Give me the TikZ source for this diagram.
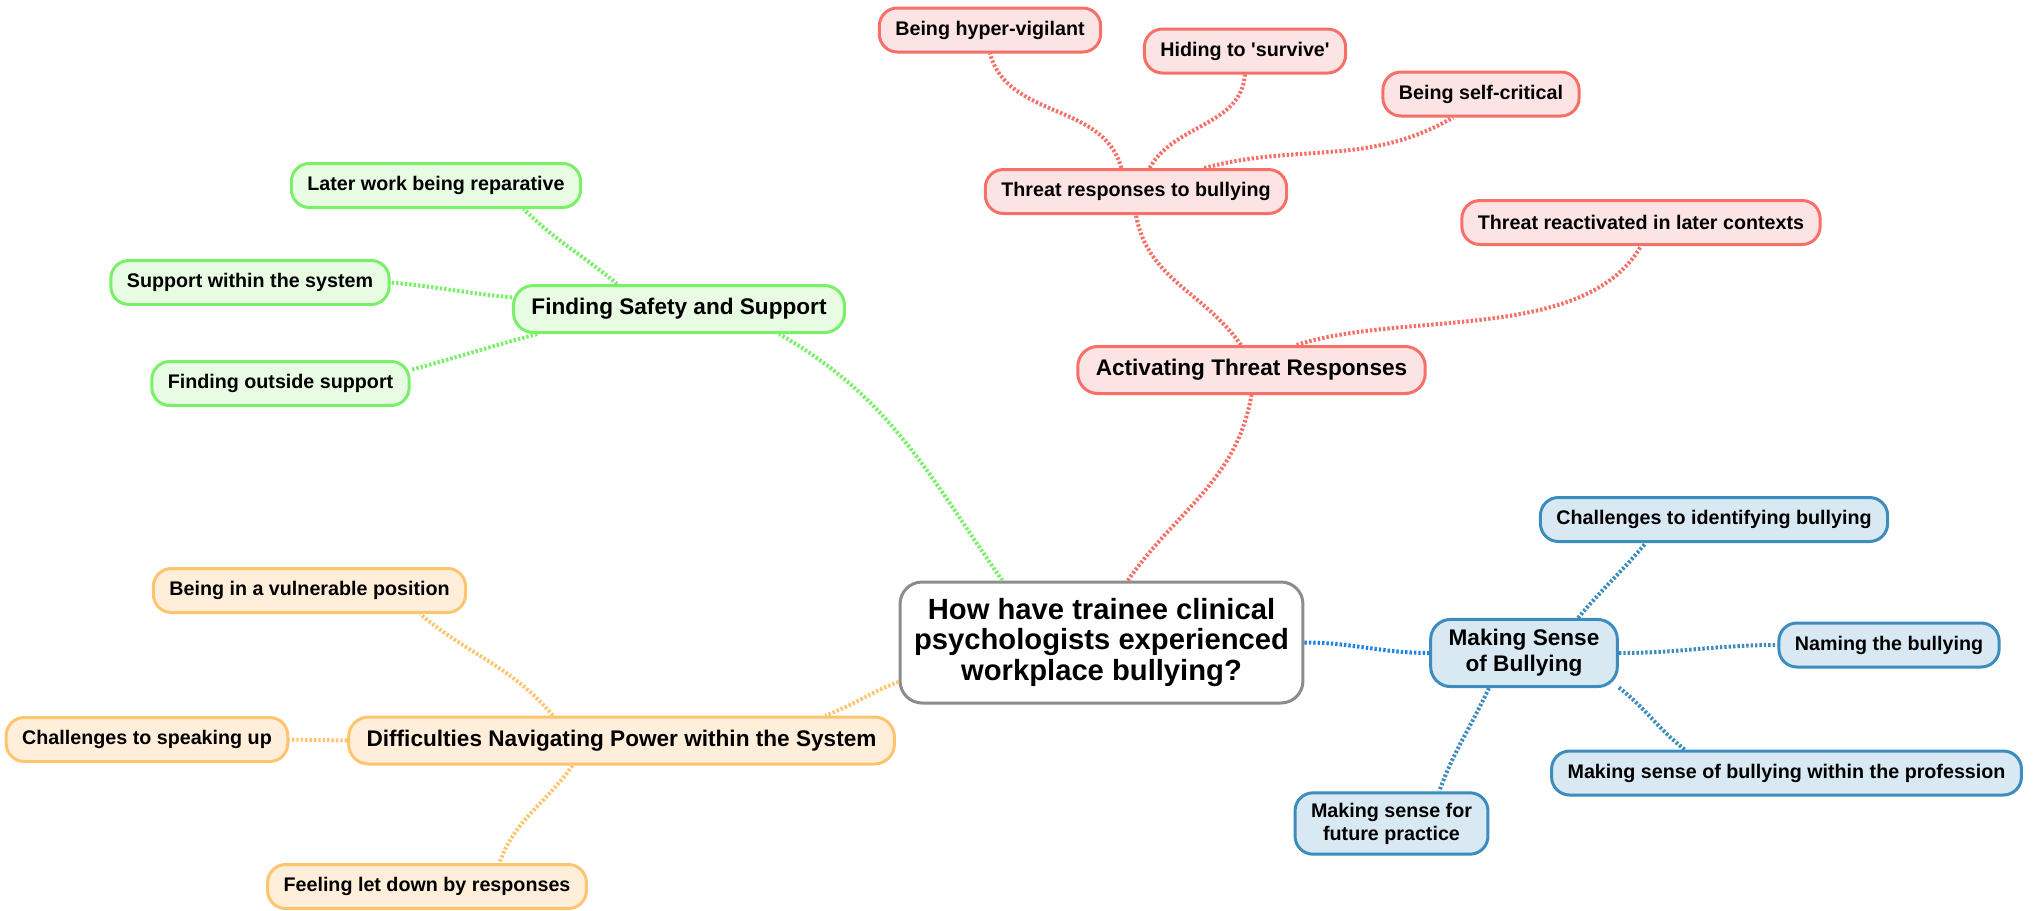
\documentclass[tikz,border=0pt]{standalone}
\usepackage{fontspec}
\setmainfont{Liberation Sans}

\definecolor{hubline}{RGB}{140,140,140}
\definecolor{redline}{RGB}{246,112,104}
\definecolor{redfill}{RGB}{253,228,228}
\definecolor{greenline}{RGB}{120,240,104}
\definecolor{greenfill}{RGB}{232,252,228}
\definecolor{orangeline}{RGB}{255,196,110}
\definecolor{orangefill}{RGB}{255,238,218}
\definecolor{blueline}{RGB}{60,140,190}
\definecolor{bluefill}{RGB}{217,233,244}
\definecolor{hubblue}{RGB}{30,130,230}

\tikzset{
  hub/.style={draw=hubline, fill=white, line width=1.5pt, rounded corners=11pt, align=center,
    inner xsep=7pt, minimum height=60.5pt, font=\fontsize{14.6}{15.4}\selectfont\bfseries},
  topic/.style={line width=1.5pt, rounded corners=10pt, align=center, inner xsep=9pt,
    inner ysep=5pt, minimum height=23.5pt, font=\fontsize{11.3}{13}\selectfont\bfseries},
  leaf/.style={line width=1.5pt, rounded corners=9pt, align=center, inner xsep=8pt,
    inner ysep=5pt, minimum height=22pt, font=\fontsize{9.85}{11.5}\selectfont\bfseries},
  redbox/.style={draw=redline, fill=redfill},
  greenbox/.style={draw=greenline, fill=greenfill},
  orangebox/.style={draw=orangeline, fill=orangefill},
  bluebox/.style={draw=blueline, fill=bluefill},
  link/.style={line width=2pt, dash pattern=on 1.2pt off 1pt},
}

\begin{document}
\begin{tikzpicture}[x=0.5pt, y=-0.5pt]
  \useasboundingbox (0,0) rectangle (2034,910);

  % centre
  \node[hub] (hub) at (1101.5,642.5) {How have trainee clinical\\psychologists experienced\\workplace bullying?};

  % threat
  \node[topic, redbox] (act) at (1251.5,370) {Activating Threat Responses};
  \node[leaf, redbox] (tresp) at (1136,191.5) {Threat responses to bullying};
  \node[leaf, redbox] (vigil) at (990,30) {Being hyper-vigilant};
  \node[leaf, redbox] (hide) at (1245,51) {Hiding to \textquotesingle survive\textquotesingle};
  \node[leaf, redbox] (selfcrit) at (1481,94) {Being self-critical};
  \node[leaf, redbox] (react) at (1641,222.5) {Threat reactivated in later contexts};

  % safety
  \node[topic, greenbox] (safe) at (679,309) {Finding Safety and Support};
  \node[leaf, greenbox] (later) at (436,185.5) {Later work being reparative};
  \node[leaf, greenbox] (within) at (250,282.5) {Support within the system};
  \node[leaf, greenbox] (outside) at (280.5,383.5) {Finding outside support};

  % power
  \node[topic, orangebox] (power) at (621.5,740.5) {Difficulties Navigating Power within the System};
  \node[leaf, orangebox] (vulner) at (309.5,590.5) {Being in a vulnerable position};
  \node[leaf, orangebox] (speak) at (147,739.5) {Challenges to speaking up};
  \node[leaf, orangebox] (letdown) at (427,886.5) {Feeling let down by responses};

  % sense
  \node[topic, bluebox] (sense) at (1524,653) {Making Sense\\of Bullying};
  \node[leaf, bluebox] (identify) at (1714,519.5) {Challenges to identifying bullying};
  \node[leaf, bluebox] (naming) at (1889,645) {Naming the bullying};
  \node[leaf, bluebox] (profess) at (1786.5,773) {Making sense of bullying within the profession};
  \node[leaf, bluebox] (future) at (1391.5,823.5) {Making sense for\\future practice};

  % LINKS
  \draw[link, redline] (hub.67) to[out=55, in=-100] (act.south);
  \draw[link, redline] (act.113) to[out=125, in=-80] (tresp.south);
  \draw[link, redline] (act.29) to[out=18, in=-120, looseness=0.8] (react.south);
  \draw[link, redline] (tresp.122) to[out=105, in=-75] (vigil.south);
  \draw[link, redline] (tresp.60) to[out=60, in=-95] (hide.south);
  \draw[link, redline] (tresp.19) to[out=15, in=-150] (selfcrit.220);

  \draw[link, greenline] (hub.148) to[out=125, in=-30] (safe.346);
  \draw[link, greenline] (safe.158) to[out=140, in=-45] (later.345);
  \draw[link, greenline] (safe.176) to[out=175, in=-5] (within.east);
  \draw[link, greenline] (safe.190) to[out=195, in=15] (outside.6);

  \draw[link, orangeline] (hub.191) to[out=200, in=20] (power.7);
  \draw[link, orangeline] (power.160) to[out=130, in=-40] (vulner.348);
  \draw[link, orangeline] (power.west) -- (speak.east);
  \draw[link, orangeline] (power.207) to[out=235, in=70] (letdown.18);

  \draw[link, hubblue] (hub.east) to[out=0, in=180] (sense.west);
  \draw[link, blueline] (sense.33) to[out=50, in=-130] (identify.199);
  \draw[link, blueline] (sense.east) to[out=0, in=180] (naming.west);
  \draw[link, blueline] (sense.340) to[out=-38, in=142] (profess.167);
  \draw[link, blueline] (sense.225) to[out=245, in=70] (future.34);
\end{tikzpicture}
\end{document}
